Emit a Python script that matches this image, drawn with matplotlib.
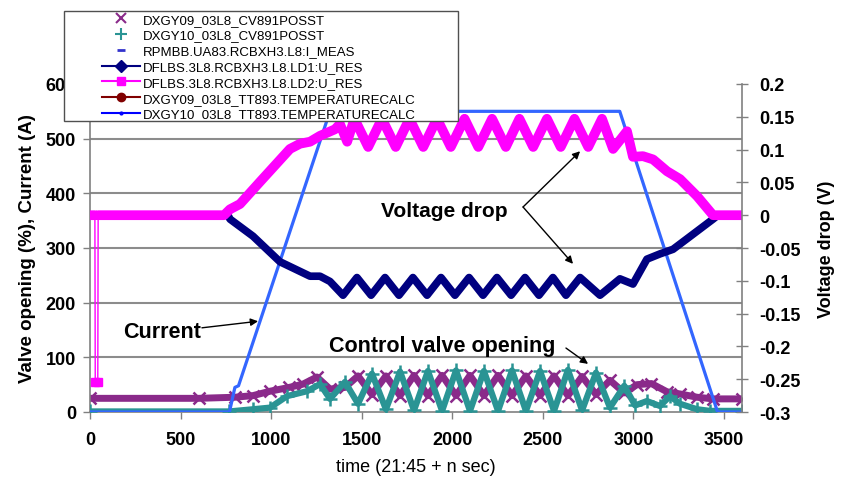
import numpy as np
import matplotlib
matplotlib.use('Agg')
import matplotlib.pyplot as plt
from matplotlib.lines import Line2D
from matplotlib.patches import Rectangle

plt.rcParams['font.family'] = ['Liberation Sans', 'DejaVu Sans']
plt.rcParams['axes.unicode_minus'] = False

# ---------------- data ----------------
legend_labels = [
    "DXGY09_03L8_CV891POSST",
    "DXGY10_03L8_CV891POSST",
    "RPMBB.UA83.RCBXH3.L8:I_MEAS",
    "DFLBS.3L8.RCBXH3.L8.LD1:U_RES",
    "DFLBS.3L8.RCBXH3.L8.LD2:U_RES",
    "DXGY09_03L8_TT893.TEMPERATURECALC",
    "DXGY10_03L8_TT893.TEMPERATURECALC",
]

# current (A), left axis
t_cur = [0, 770, 800, 820, 1325, 2925, 3465, 3600]
i_cur = [0, 0, 45, 48, 550, 550, 0, 0]

# control valve DXGY09 (%), left axis
t_v09 = [0, 600, 800, 900, 994, 1100, 1176, 1253, 1325, 1408, 1480, 1557, 1634,
         1712, 1789, 1866, 1944, 2021, 2098, 2175, 2253, 2330, 2407, 2485, 2562,
         2639, 2717, 2794, 2871, 2950, 3020, 3100, 3186, 3258, 3352, 3440, 3600]
v09 = [25, 25, 27, 30, 38, 45, 51, 64, 42, 45, 66, 32, 66,
       30, 67, 30, 67, 30, 67, 30, 67, 30, 66, 30, 66,
       30, 65, 32, 58, 35, 50, 52, 37, 33, 27, 24, 24]

# control valve DXGY10 (%), left axis
t_v10 = [0, 770, 900, 994, 1088, 1198, 1270, 1325, 1408, 1480, 1557, 1634, 1712,
         1789, 1866, 1944, 2021, 2098, 2175, 2253, 2330, 2407, 2485, 2562, 2639,
         2717, 2794, 2871, 2950, 3010, 3075, 3147, 3202, 3258, 3352, 3423, 3600]
v10 = [1, 1, 5, 8, 29, 38, 51, 24, 55, 15, 70, 5, 74,
       3, 75, 2, 76, 2, 75, 2, 76, 2, 75, 2, 77,
       3, 72, 8, 48, 12, 20, 11, 29, 15, 5, 2, 2]

# voltage drop LD1 (V), right axis
t_ld1 = [762, 773, 900, 1049, 1215, 1270, 1325, 1397, 1474, 1552, 1629, 1706, 1783,
         1861, 1938, 2015, 2093, 2170, 2247, 2325, 2402, 2479, 2556, 2628, 2706,
         2816, 2926, 2998, 3075, 3147, 3219, 3296, 3368, 3440, 3467]
u_ld1 = [0.0, -0.006, -0.032, -0.071, -0.093, -0.093, -0.101, -0.122, -0.095, -0.122,
         -0.095, -0.122, -0.095, -0.122, -0.095, -0.122, -0.095, -0.122, -0.095, -0.122,
         -0.095, -0.122, -0.095, -0.122, -0.095, -0.122, -0.097, -0.105, -0.067, -0.059,
         -0.052, -0.036, -0.021, -0.006, 0.0]

# voltage drop LD2 (V), right axis
t_ld2 = [0, 27, 29, 43, 45, 740, 773, 828, 939, 1104, 1160, 1215, 1270, 1353, 1380,
         1420, 1460, 1536, 1612, 1688, 1764, 1840, 1916, 1992, 2068, 2144, 2220, 2296,
         2371, 2447, 2523, 2599, 2675, 2751, 2827, 2888, 2965, 2998, 3053, 3109, 3186,
         3258, 3352, 3440, 3600]
u_ld2 = [0.0, 0.0, -0.255, -0.255, 0.0, 0.0, 0.009, 0.017, 0.051, 0.101, 0.109, 0.112,
         0.121, 0.131, 0.139, 0.112, 0.147, 0.104, 0.147, 0.104, 0.147, 0.104, 0.147,
         0.104, 0.147, 0.104, 0.147, 0.104, 0.147, 0.104, 0.147, 0.104, 0.147, 0.104,
         0.147, 0.101, 0.128, 0.089, 0.090, 0.085, 0.067, 0.055, 0.029, 0.0, 0.0]

x_ticks = [0, 500, 1000, 1500, 2000, 2500, 3000, 3500]
y_left_ticks = [0, 100, 200, 300, 400, 500, 600]
y_right_ticks = [-0.3, -0.25, -0.2, -0.15, -0.1, -0.05, 0.0, 0.05, 0.1, 0.15, 0.2]

# ---------------- styles ----------------
PURPLE = '#8A2A8A'
TEAL = '#2A9494'
CURBLUE = '#3366FF'
NAVY = '#000080'
MAGENTA = '#FF00FF'
GRAY = '#808080'

fig = plt.figure(figsize=(8.41, 4.85), dpi=100)
ax = fig.add_axes([90 / 841, 1 - 413 / 485, 652 / 841, 328 / 485])
ax2 = ax.twinx()

ax.plot(t_v09, v09, color=PURPLE, lw=5, marker='x', ms=8, mew=1.8, zorder=2,
        solid_joinstyle='round')
ax.plot(t_v10, v10, color=TEAL, lw=4.5, marker='+', ms=10, mew=1.8, zorder=3,
        solid_joinstyle='round')
ax.plot(t_cur, i_cur, color=CURBLUE, lw=2.3, zorder=4)

ax2.plot(t_ld1, u_ld1, color=NAVY, lw=5.5, solid_joinstyle='round', solid_capstyle='round')
t2 = np.array(t_ld2, dtype=float)
u2 = np.array(u_ld2, dtype=float)
spike = u2 < -0.2
ax2.plot(t2, u2, color=MAGENTA, lw=1)
ax2.plot(t2, np.where(spike, np.nan, u2), color=MAGENTA, lw=7,
         solid_joinstyle='round', solid_capstyle='round')
ax2.plot(t2[spike], u2[spike], ls='none', marker='s', color=MAGENTA, ms=6)

# axes
ax.set_xlim(0, 3600)
ax.set_ylim(0, 600)
ax.set_xticks(x_ticks)
ax.set_yticks(y_left_ticks)
ax2.set_ylim(-0.3, 0.2)
ax2.set_yticks(y_right_ticks)
ax2.set_yticklabels(['0' if abs(v) < 1e-9 else f"{v:g}" for v in y_right_ticks])

ax.grid(axis='y', color='#8c8c8c', lw=1.5)
gls = ax.get_ygridlines()
gls[0].set_visible(False)
gls[-1].set_visible(False)
ax.set_axisbelow(True)

for a in (ax, ax2):
    a.spines['top'].set_visible(False)
    for s in a.spines.values():
        s.set_color(GRAY)
        s.set_linewidth(1.2)
ax.spines['right'].set_visible(False)
ax2.spines['left'].set_visible(False)
ax2.spines['bottom'].set_visible(False)

ax.tick_params(axis='y', direction='out', length=5, width=1, color=GRAY, labelsize=13, pad=5)
ax.tick_params(axis='x', direction='out', length=5, width=1, color=GRAY, labelsize=13, pad=9)
ax2.tick_params(axis='y', direction='inout', length=9, width=1, color=GRAY, labelsize=13, pad=8)
for lab in ax.get_xticklabels() + ax.get_yticklabels() + ax2.get_yticklabels():
    lab.set_fontweight('bold')

ax.set_ylabel('Valve opening (%), Current (A)', fontsize=13.5, fontweight='bold', labelpad=7)
ax.set_xlabel('time (21:45 + n sec)', fontsize=13, labelpad=7)
ax2.set_ylabel('Voltage drop (V)', fontsize=13, fontweight='bold', labelpad=12)

# annotations (in left-axis data coordinates)
arrow = dict(arrowstyle='-|>', lw=1, color='black', mutation_scale=11, shrinkA=0, shrinkB=0)
ax2.text(1955, 368, 'Voltage drop', transform=ax.transData, fontsize=15,
         fontweight='bold', ha='center', va='center')
ax2.annotate('', xy=(2706, 477), xycoords=ax.transData, xytext=(2391, 375),
             textcoords=ax.transData, arrowprops=arrow)
ax2.annotate('', xy=(2667, 271), xycoords=ax.transData, xytext=(2391, 375),
             textcoords=ax.transData, arrowprops=arrow)
ax2.text(398, 148, 'Current', transform=ax.transData, fontsize=15.5,
         fontweight='bold', ha='center', va='center')
ax2.annotate('', xy=(928, 166), xycoords=ax.transData, xytext=(618, 154),
             textcoords=ax.transData, arrowprops=arrow)
ax2.text(1944, 121, 'Control valve opening', transform=ax.transData, fontsize=15.5,
         fontweight='bold', ha='center', va='center')
ax2.annotate('', xy=(2750, 88), xycoords=ax.transData, xytext=(2628, 117),
             textcoords=ax.transData, arrowprops=arrow)

# legend
handles = [
    Line2D([], [], ls='none', marker='x', color=PURPLE, ms=7, mew=1.5),
    Line2D([], [], ls='none', marker='+', color=TEAL, ms=8, mew=1.5),
    Line2D([], [], ls='none', marker='_', color='#3333CC', ms=6, mew=2),
    Line2D([], [], color=NAVY, lw=1.5, marker='D', ms=6),
    Line2D([], [], color=MAGENTA, lw=1.5, marker='s', ms=6),
    Line2D([], [], color='#800000', lw=1.5, marker='o', ms=6),
    Line2D([], [], color='#0000FF', lw=1.5, marker='.', ms=4),
]
frame = Rectangle((64 / 841, 1 - 122 / 485), 394 / 841, 110 / 485,
                  transform=fig.transFigure, facecolor='white',
                  edgecolor='#505050', lw=1, zorder=4)
fig.add_artist(frame)
leg = fig.legend(handles, legend_labels, loc='upper left',
                 bbox_to_anchor=(102 / 841, 1 - 14.5 / 485), frameon=False, fontsize=9.5,
                 borderpad=0, borderaxespad=0, handlelength=2.88, handletextpad=0.23,
                 labelspacing=0.27)
for txt in leg.get_texts():
    txt.set_clip_path(frame)
for h in leg.legend_handles:
    h.set_clip_path(frame)

fig.savefig('out.png', dpi=100)
